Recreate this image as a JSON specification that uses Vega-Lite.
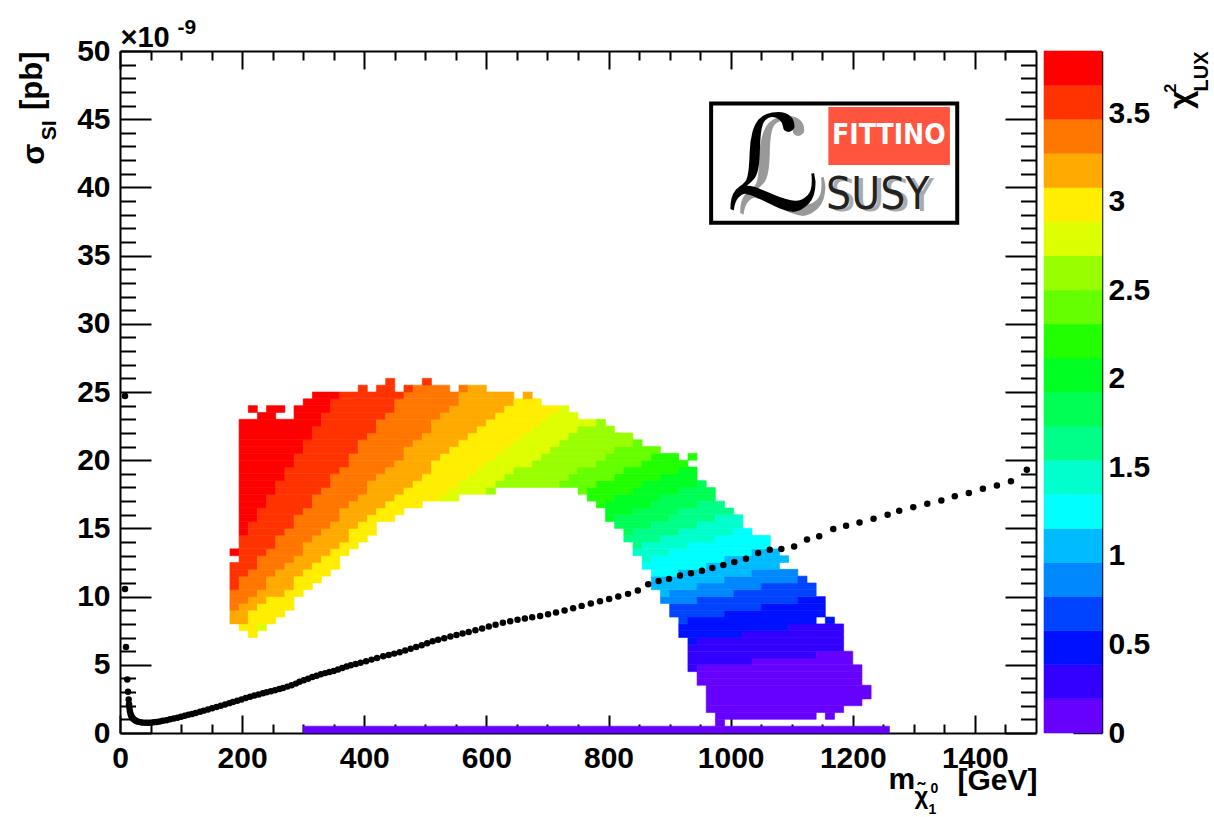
{
"$schema":"https://vega.github.io/schema/vega-lite/v6.json",
"background":"white",
"padding":{"left":16,"top":16,"right":0,"bottom":0},
"spacing":8,
"bounds":"flush",
"config":{
 "view":{"stroke":null},
 "axis":{"labelFont":"Liberation Sans","labelFontWeight":"bold","labelFontSize":30,"labelColor":"#000","titleFont":"Liberation Sans","titleFontWeight":"bold","titleColor":"#000","tickColor":"#000","tickWidth":2,"domainColor":"#000","domainWidth":2,"grid":false,"zindex":1,"labelOverlap":false,"labelFlush":false}
},
"hconcat":[
{
 "width":916,"height":682,
 "resolve":{"axis":{"x":"independent","y":"independent"}},
 "layer":[
  {
   "data":{"values":[
{"x0":300,"x1":1260,"y0":0,"y1":0.5,"chi":0.1},
{"x0":975,"x1":990,"y0":0.5,"y1":1,"chi":0.1},
{"x0":975,"x1":1140,"y0":1,"y1":1.5,"chi":0.1},
{"x0":1155,"x1":1170,"y0":1,"y1":1.5,"chi":0.1},
{"x0":960,"x1":1185,"y0":1.5,"y1":2,"chi":0.1},
{"x0":960,"x1":1215,"y0":2,"y1":2.5,"chi":0.1},
{"x0":960,"x1":1230,"y0":2.5,"y1":3,"chi":0.1},
{"x0":960,"x1":1230,"y0":3,"y1":3.5,"chi":0.1},
{"x0":945,"x1":1215,"y0":3.5,"y1":4,"chi":0.1},
{"x0":945,"x1":1215,"y0":4,"y1":4.5,"chi":0.1},
{"x0":930,"x1":945,"y0":4.5,"y1":5,"chi":0.29},
{"x0":945,"x1":1215,"y0":4.5,"y1":5,"chi":0.1},
{"x0":930,"x1":1035,"y0":5,"y1":5.5,"chi":0.29},
{"x0":1035,"x1":1200,"y0":5,"y1":5.5,"chi":0.1},
{"x0":930,"x1":1140,"y0":5.5,"y1":6,"chi":0.29},
{"x0":1140,"x1":1200,"y0":5.5,"y1":6,"chi":0.1},
{"x0":930,"x1":1185,"y0":6,"y1":6.5,"chi":0.29},
{"x0":930,"x1":945,"y0":6.5,"y1":7,"chi":0.48},
{"x0":945,"x1":1185,"y0":6.5,"y1":7,"chi":0.29},
{"x0":210,"x1":225,"y0":7,"y1":7.5,"chi":2.99},
{"x0":915,"x1":1020,"y0":7,"y1":7.5,"chi":0.48},
{"x0":1020,"x1":1185,"y0":7,"y1":7.5,"chi":0.29},
{"x0":195,"x1":225,"y0":7.5,"y1":8,"chi":2.99},
{"x0":225,"x1":240,"y0":7.5,"y1":8,"chi":2.79},
{"x0":915,"x1":1095,"y0":7.5,"y1":8,"chi":0.48},
{"x0":1095,"x1":1185,"y0":7.5,"y1":8,"chi":0.29},
{"x0":180,"x1":210,"y0":8,"y1":8.5,"chi":3.18},
{"x0":210,"x1":255,"y0":8,"y1":8.5,"chi":2.99},
{"x0":915,"x1":930,"y0":8,"y1":8.5,"chi":0.67},
{"x0":930,"x1":1140,"y0":8,"y1":8.5,"chi":0.48},
{"x0":1155,"x1":1170,"y0":8,"y1":8.5,"chi":0.48},
{"x0":180,"x1":210,"y0":8.5,"y1":9,"chi":3.18},
{"x0":210,"x1":270,"y0":8.5,"y1":9,"chi":2.99},
{"x0":900,"x1":990,"y0":8.5,"y1":9,"chi":0.67},
{"x0":990,"x1":1155,"y0":8.5,"y1":9,"chi":0.48},
{"x0":180,"x1":195,"y0":9,"y1":9.5,"chi":3.37},
{"x0":195,"x1":225,"y0":9,"y1":9.5,"chi":3.18},
{"x0":225,"x1":285,"y0":9,"y1":9.5,"chi":2.99},
{"x0":900,"x1":1050,"y0":9,"y1":9.5,"chi":0.67},
{"x0":1050,"x1":1155,"y0":9,"y1":9.5,"chi":0.48},
{"x0":180,"x1":210,"y0":9.5,"y1":10,"chi":3.37},
{"x0":210,"x1":240,"y0":9.5,"y1":10,"chi":3.18},
{"x0":240,"x1":285,"y0":9.5,"y1":10,"chi":2.99},
{"x0":885,"x1":945,"y0":9.5,"y1":10,"chi":0.87},
{"x0":945,"x1":1110,"y0":9.5,"y1":10,"chi":0.67},
{"x0":1110,"x1":1155,"y0":9.5,"y1":10,"chi":0.48},
{"x0":180,"x1":225,"y0":10,"y1":10.5,"chi":3.37},
{"x0":225,"x1":270,"y0":10,"y1":10.5,"chi":3.18},
{"x0":270,"x1":300,"y0":10,"y1":10.5,"chi":2.99},
{"x0":885,"x1":900,"y0":10,"y1":10.5,"chi":1.06},
{"x0":900,"x1":1005,"y0":10,"y1":10.5,"chi":0.87},
{"x0":1005,"x1":1140,"y0":10,"y1":10.5,"chi":0.67},
{"x0":180,"x1":195,"y0":10.5,"y1":11,"chi":3.56},
{"x0":195,"x1":240,"y0":10.5,"y1":11,"chi":3.37},
{"x0":240,"x1":285,"y0":10.5,"y1":11,"chi":3.18},
{"x0":285,"x1":315,"y0":10.5,"y1":11,"chi":2.99},
{"x0":870,"x1":945,"y0":10.5,"y1":11,"chi":1.06},
{"x0":945,"x1":1050,"y0":10.5,"y1":11,"chi":0.87},
{"x0":1050,"x1":1140,"y0":10.5,"y1":11,"chi":0.67},
{"x0":180,"x1":195,"y0":11,"y1":11.5,"chi":3.56},
{"x0":195,"x1":240,"y0":11,"y1":11.5,"chi":3.37},
{"x0":240,"x1":285,"y0":11,"y1":11.5,"chi":3.18},
{"x0":285,"x1":330,"y0":11,"y1":11.5,"chi":2.99},
{"x0":870,"x1":990,"y0":11,"y1":11.5,"chi":1.06},
{"x0":990,"x1":1110,"y0":11,"y1":11.5,"chi":0.87},
{"x0":1110,"x1":1125,"y0":11,"y1":11.5,"chi":0.67},
{"x0":180,"x1":210,"y0":11.5,"y1":12,"chi":3.56},
{"x0":210,"x1":255,"y0":11.5,"y1":12,"chi":3.37},
{"x0":255,"x1":300,"y0":11.5,"y1":12,"chi":3.18},
{"x0":300,"x1":345,"y0":11.5,"y1":12,"chi":2.99},
{"x0":870,"x1":915,"y0":11.5,"y1":12,"chi":1.25},
{"x0":915,"x1":1035,"y0":11.5,"y1":12,"chi":1.06},
{"x0":1035,"x1":1110,"y0":11.5,"y1":12,"chi":0.87},
{"x0":180,"x1":225,"y0":12,"y1":12.5,"chi":3.56},
{"x0":225,"x1":270,"y0":12,"y1":12.5,"chi":3.37},
{"x0":270,"x1":315,"y0":12,"y1":12.5,"chi":3.18},
{"x0":315,"x1":360,"y0":12,"y1":12.5,"chi":2.99},
{"x0":855,"x1":960,"y0":12,"y1":12.5,"chi":1.25},
{"x0":960,"x1":1080,"y0":12,"y1":12.5,"chi":1.06},
{"x0":195,"x1":225,"y0":12.5,"y1":13,"chi":3.56},
{"x0":225,"x1":285,"y0":12.5,"y1":13,"chi":3.37},
{"x0":285,"x1":330,"y0":12.5,"y1":13,"chi":3.18},
{"x0":330,"x1":360,"y0":12.5,"y1":13,"chi":2.99},
{"x0":855,"x1":870,"y0":12.5,"y1":13,"chi":1.45},
{"x0":870,"x1":990,"y0":12.5,"y1":13,"chi":1.25},
{"x0":990,"x1":1095,"y0":12.5,"y1":13,"chi":1.06},
{"x0":180,"x1":195,"y0":13,"y1":13.5,"chi":3.76},
{"x0":195,"x1":240,"y0":13,"y1":13.5,"chi":3.56},
{"x0":240,"x1":300,"y0":13,"y1":13.5,"chi":3.37},
{"x0":300,"x1":345,"y0":13,"y1":13.5,"chi":3.18},
{"x0":345,"x1":375,"y0":13,"y1":13.5,"chi":2.99},
{"x0":840,"x1":900,"y0":13,"y1":13.5,"chi":1.45},
{"x0":900,"x1":1035,"y0":13,"y1":13.5,"chi":1.25},
{"x0":1035,"x1":1080,"y0":13,"y1":13.5,"chi":1.06},
{"x0":195,"x1":255,"y0":13.5,"y1":14,"chi":3.56},
{"x0":255,"x1":300,"y0":13.5,"y1":14,"chi":3.37},
{"x0":300,"x1":360,"y0":13.5,"y1":14,"chi":3.18},
{"x0":360,"x1":390,"y0":13.5,"y1":14,"chi":2.99},
{"x0":840,"x1":855,"y0":13.5,"y1":14,"chi":1.64},
{"x0":855,"x1":930,"y0":13.5,"y1":14,"chi":1.45},
{"x0":930,"x1":1065,"y0":13.5,"y1":14,"chi":1.25},
{"x0":195,"x1":255,"y0":14,"y1":14.5,"chi":3.56},
{"x0":255,"x1":315,"y0":14,"y1":14.5,"chi":3.37},
{"x0":315,"x1":375,"y0":14,"y1":14.5,"chi":3.18},
{"x0":375,"x1":405,"y0":14,"y1":14.5,"chi":2.99},
{"x0":825,"x1":885,"y0":14,"y1":14.5,"chi":1.64},
{"x0":885,"x1":975,"y0":14,"y1":14.5,"chi":1.45},
{"x0":975,"x1":1065,"y0":14,"y1":14.5,"chi":1.25},
{"x0":195,"x1":210,"y0":14.5,"y1":15,"chi":3.76},
{"x0":210,"x1":270,"y0":14.5,"y1":15,"chi":3.56},
{"x0":270,"x1":330,"y0":14.5,"y1":15,"chi":3.37},
{"x0":330,"x1":375,"y0":14.5,"y1":15,"chi":3.18},
{"x0":375,"x1":420,"y0":14.5,"y1":15,"chi":2.99},
{"x0":825,"x1":840,"y0":14.5,"y1":15,"chi":1.83},
{"x0":840,"x1":915,"y0":14.5,"y1":15,"chi":1.64},
{"x0":915,"x1":1005,"y0":14.5,"y1":15,"chi":1.45},
{"x0":1005,"x1":1035,"y0":14.5,"y1":15,"chi":1.25},
{"x0":195,"x1":210,"y0":15,"y1":15.5,"chi":3.76},
{"x0":210,"x1":285,"y0":15,"y1":15.5,"chi":3.56},
{"x0":285,"x1":345,"y0":15,"y1":15.5,"chi":3.37},
{"x0":345,"x1":390,"y0":15,"y1":15.5,"chi":3.18},
{"x0":390,"x1":420,"y0":15,"y1":15.5,"chi":2.99},
{"x0":810,"x1":870,"y0":15,"y1":15.5,"chi":1.83},
{"x0":870,"x1":945,"y0":15,"y1":15.5,"chi":1.64},
{"x0":945,"x1":1020,"y0":15,"y1":15.5,"chi":1.45},
{"x0":195,"x1":225,"y0":15.5,"y1":16,"chi":3.76},
{"x0":225,"x1":285,"y0":15.5,"y1":16,"chi":3.56},
{"x0":285,"x1":360,"y0":15.5,"y1":16,"chi":3.37},
{"x0":360,"x1":405,"y0":15.5,"y1":16,"chi":3.18},
{"x0":405,"x1":450,"y0":15.5,"y1":16,"chi":2.99},
{"x0":795,"x1":810,"y0":15.5,"y1":16,"chi":2.02},
{"x0":810,"x1":900,"y0":15.5,"y1":16,"chi":1.83},
{"x0":900,"x1":975,"y0":15.5,"y1":16,"chi":1.64},
{"x0":975,"x1":1020,"y0":15.5,"y1":16,"chi":1.45},
{"x0":195,"x1":225,"y0":16,"y1":16.5,"chi":3.76},
{"x0":225,"x1":300,"y0":16,"y1":16.5,"chi":3.56},
{"x0":300,"x1":360,"y0":16,"y1":16.5,"chi":3.37},
{"x0":360,"x1":420,"y0":16,"y1":16.5,"chi":3.18},
{"x0":420,"x1":465,"y0":16,"y1":16.5,"chi":2.99},
{"x0":795,"x1":840,"y0":16,"y1":16.5,"chi":2.02},
{"x0":840,"x1":915,"y0":16,"y1":16.5,"chi":1.83},
{"x0":915,"x1":1005,"y0":16,"y1":16.5,"chi":1.64},
{"x0":195,"x1":240,"y0":16.5,"y1":17,"chi":3.76},
{"x0":240,"x1":315,"y0":16.5,"y1":17,"chi":3.56},
{"x0":315,"x1":375,"y0":16.5,"y1":17,"chi":3.37},
{"x0":375,"x1":435,"y0":16.5,"y1":17,"chi":3.18},
{"x0":435,"x1":495,"y0":16.5,"y1":17,"chi":2.99},
{"x0":780,"x1":795,"y0":16.5,"y1":17,"chi":2.22},
{"x0":795,"x1":870,"y0":16.5,"y1":17,"chi":2.02},
{"x0":870,"x1":945,"y0":16.5,"y1":17,"chi":1.83},
{"x0":945,"x1":990,"y0":16.5,"y1":17,"chi":1.64},
{"x0":195,"x1":240,"y0":17,"y1":17.5,"chi":3.76},
{"x0":240,"x1":315,"y0":17,"y1":17.5,"chi":3.56},
{"x0":315,"x1":390,"y0":17,"y1":17.5,"chi":3.37},
{"x0":390,"x1":450,"y0":17,"y1":17.5,"chi":3.18},
{"x0":450,"x1":525,"y0":17,"y1":17.5,"chi":2.99},
{"x0":525,"x1":555,"y0":17,"y1":17.5,"chi":2.79},
{"x0":765,"x1":810,"y0":17,"y1":17.5,"chi":2.22},
{"x0":810,"x1":885,"y0":17,"y1":17.5,"chi":2.02},
{"x0":885,"x1":975,"y0":17,"y1":17.5,"chi":1.83},
{"x0":195,"x1":255,"y0":17.5,"y1":18,"chi":3.76},
{"x0":255,"x1":330,"y0":17.5,"y1":18,"chi":3.56},
{"x0":330,"x1":405,"y0":17.5,"y1":18,"chi":3.37},
{"x0":405,"x1":465,"y0":17.5,"y1":18,"chi":3.18},
{"x0":465,"x1":540,"y0":17.5,"y1":18,"chi":2.99},
{"x0":540,"x1":600,"y0":17.5,"y1":18,"chi":2.79},
{"x0":600,"x1":615,"y0":17.5,"y1":18,"chi":2.6},
{"x0":750,"x1":765,"y0":17.5,"y1":18,"chi":2.41},
{"x0":765,"x1":840,"y0":17.5,"y1":18,"chi":2.22},
{"x0":840,"x1":915,"y0":17.5,"y1":18,"chi":2.02},
{"x0":915,"x1":975,"y0":17.5,"y1":18,"chi":1.83},
{"x0":195,"x1":255,"y0":18,"y1":18.5,"chi":3.76},
{"x0":255,"x1":345,"y0":18,"y1":18.5,"chi":3.56},
{"x0":345,"x1":405,"y0":18,"y1":18.5,"chi":3.37},
{"x0":405,"x1":480,"y0":18,"y1":18.5,"chi":3.18},
{"x0":480,"x1":555,"y0":18,"y1":18.5,"chi":2.99},
{"x0":555,"x1":615,"y0":18,"y1":18.5,"chi":2.79},
{"x0":615,"x1":720,"y0":18,"y1":18.5,"chi":2.6},
{"x0":720,"x1":780,"y0":18,"y1":18.5,"chi":2.41},
{"x0":780,"x1":855,"y0":18,"y1":18.5,"chi":2.22},
{"x0":855,"x1":945,"y0":18,"y1":18.5,"chi":2.02},
{"x0":945,"x1":960,"y0":18,"y1":18.5,"chi":1.83},
{"x0":195,"x1":270,"y0":18.5,"y1":19,"chi":3.76},
{"x0":270,"x1":345,"y0":18.5,"y1":19,"chi":3.56},
{"x0":345,"x1":420,"y0":18.5,"y1":19,"chi":3.37},
{"x0":420,"x1":495,"y0":18.5,"y1":19,"chi":3.18},
{"x0":495,"x1":570,"y0":18.5,"y1":19,"chi":2.99},
{"x0":570,"x1":630,"y0":18.5,"y1":19,"chi":2.79},
{"x0":630,"x1":735,"y0":18.5,"y1":19,"chi":2.6},
{"x0":735,"x1":810,"y0":18.5,"y1":19,"chi":2.41},
{"x0":810,"x1":885,"y0":18.5,"y1":19,"chi":2.22},
{"x0":885,"x1":945,"y0":18.5,"y1":19,"chi":2.02},
{"x0":195,"x1":270,"y0":19,"y1":19.5,"chi":3.76},
{"x0":270,"x1":360,"y0":19,"y1":19.5,"chi":3.56},
{"x0":360,"x1":435,"y0":19,"y1":19.5,"chi":3.37},
{"x0":435,"x1":510,"y0":19,"y1":19.5,"chi":3.18},
{"x0":510,"x1":585,"y0":19,"y1":19.5,"chi":2.99},
{"x0":585,"x1":645,"y0":19,"y1":19.5,"chi":2.79},
{"x0":645,"x1":750,"y0":19,"y1":19.5,"chi":2.6},
{"x0":750,"x1":825,"y0":19,"y1":19.5,"chi":2.41},
{"x0":825,"x1":915,"y0":19,"y1":19.5,"chi":2.22},
{"x0":915,"x1":945,"y0":19,"y1":19.5,"chi":2.02},
{"x0":195,"x1":285,"y0":19.5,"y1":20,"chi":3.76},
{"x0":285,"x1":375,"y0":19.5,"y1":20,"chi":3.56},
{"x0":375,"x1":450,"y0":19.5,"y1":20,"chi":3.37},
{"x0":450,"x1":510,"y0":19.5,"y1":20,"chi":3.18},
{"x0":510,"x1":600,"y0":19.5,"y1":20,"chi":2.99},
{"x0":600,"x1":675,"y0":19.5,"y1":20,"chi":2.79},
{"x0":675,"x1":780,"y0":19.5,"y1":20,"chi":2.6},
{"x0":780,"x1":855,"y0":19.5,"y1":20,"chi":2.41},
{"x0":855,"x1":930,"y0":19.5,"y1":20,"chi":2.22},
{"x0":195,"x1":285,"y0":20,"y1":20.5,"chi":3.76},
{"x0":285,"x1":375,"y0":20,"y1":20.5,"chi":3.56},
{"x0":375,"x1":465,"y0":20,"y1":20.5,"chi":3.37},
{"x0":465,"x1":525,"y0":20,"y1":20.5,"chi":3.18},
{"x0":525,"x1":615,"y0":20,"y1":20.5,"chi":2.99},
{"x0":615,"x1":690,"y0":20,"y1":20.5,"chi":2.79},
{"x0":690,"x1":795,"y0":20,"y1":20.5,"chi":2.6},
{"x0":795,"x1":870,"y0":20,"y1":20.5,"chi":2.41},
{"x0":870,"x1":915,"y0":20,"y1":20.5,"chi":2.22},
{"x0":930,"x1":945,"y0":20,"y1":20.5,"chi":2.22},
{"x0":195,"x1":300,"y0":20.5,"y1":21,"chi":3.76},
{"x0":300,"x1":390,"y0":20.5,"y1":21,"chi":3.56},
{"x0":390,"x1":465,"y0":20.5,"y1":21,"chi":3.37},
{"x0":465,"x1":540,"y0":20.5,"y1":21,"chi":3.18},
{"x0":540,"x1":630,"y0":20.5,"y1":21,"chi":2.99},
{"x0":630,"x1":705,"y0":20.5,"y1":21,"chi":2.79},
{"x0":705,"x1":810,"y0":20.5,"y1":21,"chi":2.6},
{"x0":810,"x1":885,"y0":20.5,"y1":21,"chi":2.41},
{"x0":195,"x1":300,"y0":21,"y1":21.5,"chi":3.76},
{"x0":300,"x1":390,"y0":21,"y1":21.5,"chi":3.56},
{"x0":390,"x1":480,"y0":21,"y1":21.5,"chi":3.37},
{"x0":480,"x1":555,"y0":21,"y1":21.5,"chi":3.18},
{"x0":555,"x1":645,"y0":21,"y1":21.5,"chi":2.99},
{"x0":645,"x1":720,"y0":21,"y1":21.5,"chi":2.79},
{"x0":720,"x1":840,"y0":21,"y1":21.5,"chi":2.6},
{"x0":840,"x1":855,"y0":21,"y1":21.5,"chi":2.41},
{"x0":195,"x1":315,"y0":21.5,"y1":22,"chi":3.76},
{"x0":315,"x1":405,"y0":21.5,"y1":22,"chi":3.56},
{"x0":405,"x1":495,"y0":21.5,"y1":22,"chi":3.37},
{"x0":495,"x1":570,"y0":21.5,"y1":22,"chi":3.18},
{"x0":570,"x1":660,"y0":21.5,"y1":22,"chi":2.99},
{"x0":660,"x1":735,"y0":21.5,"y1":22,"chi":2.79},
{"x0":735,"x1":840,"y0":21.5,"y1":22,"chi":2.6},
{"x0":195,"x1":315,"y0":22,"y1":22.5,"chi":3.76},
{"x0":315,"x1":420,"y0":22,"y1":22.5,"chi":3.56},
{"x0":420,"x1":510,"y0":22,"y1":22.5,"chi":3.37},
{"x0":510,"x1":585,"y0":22,"y1":22.5,"chi":3.18},
{"x0":585,"x1":675,"y0":22,"y1":22.5,"chi":2.99},
{"x0":675,"x1":750,"y0":22,"y1":22.5,"chi":2.79},
{"x0":750,"x1":810,"y0":22,"y1":22.5,"chi":2.6},
{"x0":195,"x1":330,"y0":22.5,"y1":23,"chi":3.76},
{"x0":330,"x1":420,"y0":22.5,"y1":23,"chi":3.56},
{"x0":420,"x1":510,"y0":22.5,"y1":23,"chi":3.37},
{"x0":510,"x1":600,"y0":22.5,"y1":23,"chi":3.18},
{"x0":600,"x1":690,"y0":22.5,"y1":23,"chi":2.99},
{"x0":690,"x1":780,"y0":22.5,"y1":23,"chi":2.79},
{"x0":780,"x1":795,"y0":22.5,"y1":23,"chi":2.6},
{"x0":225,"x1":255,"y0":23,"y1":23.5,"chi":3.76},
{"x0":285,"x1":330,"y0":23,"y1":23.5,"chi":3.76},
{"x0":330,"x1":435,"y0":23,"y1":23.5,"chi":3.56},
{"x0":435,"x1":525,"y0":23,"y1":23.5,"chi":3.37},
{"x0":525,"x1":615,"y0":23,"y1":23.5,"chi":3.18},
{"x0":615,"x1":705,"y0":23,"y1":23.5,"chi":2.99},
{"x0":705,"x1":750,"y0":23,"y1":23.5,"chi":2.79},
{"x0":210,"x1":225,"y0":23.5,"y1":24,"chi":3.76},
{"x0":240,"x1":270,"y0":23.5,"y1":24,"chi":3.76},
{"x0":285,"x1":345,"y0":23.5,"y1":24,"chi":3.76},
{"x0":345,"x1":450,"y0":23.5,"y1":24,"chi":3.56},
{"x0":450,"x1":540,"y0":23.5,"y1":24,"chi":3.37},
{"x0":540,"x1":630,"y0":23.5,"y1":24,"chi":3.18},
{"x0":630,"x1":720,"y0":23.5,"y1":24,"chi":2.99},
{"x0":720,"x1":735,"y0":23.5,"y1":24,"chi":2.79},
{"x0":300,"x1":345,"y0":24,"y1":24.5,"chi":3.76},
{"x0":345,"x1":450,"y0":24,"y1":24.5,"chi":3.56},
{"x0":450,"x1":555,"y0":24,"y1":24.5,"chi":3.37},
{"x0":555,"x1":645,"y0":24,"y1":24.5,"chi":3.18},
{"x0":645,"x1":690,"y0":24,"y1":24.5,"chi":2.99},
{"x0":315,"x1":360,"y0":24.5,"y1":25,"chi":3.76},
{"x0":360,"x1":465,"y0":24.5,"y1":25,"chi":3.56},
{"x0":465,"x1":555,"y0":24.5,"y1":25,"chi":3.37},
{"x0":555,"x1":645,"y0":24.5,"y1":25,"chi":3.18},
{"x0":660,"x1":675,"y0":24.5,"y1":25,"chi":3.18},
{"x0":390,"x1":405,"y0":25,"y1":25.5,"chi":3.56},
{"x0":420,"x1":450,"y0":25,"y1":25.5,"chi":3.56},
{"x0":465,"x1":480,"y0":25,"y1":25.5,"chi":3.56},
{"x0":480,"x1":540,"y0":25,"y1":25.5,"chi":3.37},
{"x0":555,"x1":570,"y0":25,"y1":25.5,"chi":3.37},
{"x0":570,"x1":600,"y0":25,"y1":25.5,"chi":3.18},
{"x0":435,"x1":450,"y0":25.5,"y1":26,"chi":3.56},
{"x0":495,"x1":510,"y0":25.5,"y1":26,"chi":3.56}
   ]},
   "mark":{"type":"rect","strokeWidth":0.6},
   "encoding":{
    "x":{"field":"x0","type":"quantitative","scale":{"domain":[0,1500],"nice":false,"zero":false},
     "axis":{"orient":"bottom","values":[0,200,400,600,800,1000,1200,1400],"format":"d","tickSize":-18,"labelPadding":28,"domain":true,
      "title":"m","titleX":768,"titleY":55,"titleAngle":0,"titleAlign":"left","titleBaseline":"alphabetic","titleFontSize":30}},
    "x2":{"field":"x1"},
    "y":{"field":"y0","type":"quantitative","scale":{"domain":[0,50],"nice":false,"zero":false},
     "axis":{"orient":"left","values":[0,5,10,15,20,25,30,35,40,45,50],"format":"d","tickSize":-31,"labelPadding":41,"domain":true,"labelAlign":"right","labelBaseline":"middle",
      "title":"\u03c3","titleX":-77,"titleY":92,"titleAngle":-90,"titleAlign":"right","titleBaseline":"alphabetic","titleFontSize":31}},
    "y2":{"field":"y1"},
    "color":{"field":"chi","type":"quantitative","legend":null,"scale":{"type":"quantize","domain":[0,3.853],"nice":false,"range":["#6600ff","#3300ff","#0011ff","#0044ff","#0088ff","#00bbff","#00ffff","#00ffcc","#00ff88","#00ff55","#00ff22","#22ff00","#66ff00","#99ff00","#ddff00","#ffee00","#ffaa00","#ff7700","#ff3300","#ff0000"]}},
    "stroke":{"field":"chi","type":"quantitative","legend":null,"scale":{"type":"quantize","domain":[0,3.853],"nice":false,"range":["#6600ff","#3300ff","#0011ff","#0044ff","#0088ff","#00bbff","#00ffff","#00ffcc","#00ff88","#00ff55","#00ff22","#22ff00","#66ff00","#99ff00","#ddff00","#ffee00","#ffaa00","#ff7700","#ff3300","#ff0000"]}}
   }
  },
  {
   "data":{"values":[
{"mass":8.2,"sigma":24.7},{"mass":8.2,"sigma":10.56},{"mass":9.8,"sigma":6.31},{"mass":12.0,"sigma":3.92},{"mass":13.1,"sigma":3.02},{"mass":14.2,"sigma":2.45},{"mass":14.8,"sigma":2.1},{"mass":15.4,"sigma":1.85},{"mass":16.2,"sigma":1.62},{"mass":17.2,"sigma":1.42},{"mass":18.4,"sigma":1.27},{"mass":20,"sigma":1.13},{"mass":22,"sigma":1.02},{"mass":24.5,"sigma":0.93},{"mass":27,"sigma":0.87},{"mass":30,"sigma":0.82},{"mass":34,"sigma":0.78},{"mass":38,"sigma":0.76},{"mass":42,"sigma":0.75},{"mass":46,"sigma":0.75},{"mass":50,"sigma":0.76},{"mass":55,"sigma":0.78},{"mass":60,"sigma":0.81},{"mass":65,"sigma":0.85},{"mass":70,"sigma":0.89},{"mass":76,"sigma":0.94},{"mass":82,"sigma":1.0},{"mass":88,"sigma":1.06},{"mass":94,"sigma":1.12},{"mass":100,"sigma":1.19},{"mass":106,"sigma":1.26},{"mass":112,"sigma":1.33},{"mass":118,"sigma":1.4},{"mass":124,"sigma":1.47},{"mass":131,"sigma":1.56},{"mass":137,"sigma":1.64},{"mass":144,"sigma":1.72},{"mass":151,"sigma":1.81},{"mass":158,"sigma":1.9},{"mass":165,"sigma":2.0},{"mass":172,"sigma":2.09},{"mass":179,"sigma":2.19},{"mass":185,"sigma":2.28},{"mass":192,"sigma":2.37},{"mass":199,"sigma":2.46},{"mass":206,"sigma":2.56},{"mass":213,"sigma":2.66},{"mass":220,"sigma":2.75},{"mass":227,"sigma":2.83},{"mass":234,"sigma":2.91},{"mass":240,"sigma":2.98},{"mass":247,"sigma":3.06},{"mass":254,"sigma":3.14},{"mass":261,"sigma":3.22},{"mass":267,"sigma":3.3},{"mass":274,"sigma":3.4},{"mass":281,"sigma":3.5},{"mass":288,"sigma":3.62},{"mass":294,"sigma":3.75},{"mass":301,"sigma":3.87},{"mass":308,"sigma":3.98},{"mass":315,"sigma":4.1},{"mass":322,"sigma":4.2},{"mass":329,"sigma":4.3},{"mass":336,"sigma":4.39},{"mass":343,"sigma":4.47},{"mass":350,"sigma":4.55},{"mass":357,"sigma":4.66},{"mass":364,"sigma":4.77},{"mass":371,"sigma":4.87},{"mass":378,"sigma":4.97},{"mass":386,"sigma":5.06},{"mass":394,"sigma":5.15},{"mass":403,"sigma":5.26},{"mass":412,"sigma":5.38},{"mass":421,"sigma":5.5},{"mass":431,"sigma":5.63},{"mass":440,"sigma":5.72},{"mass":449,"sigma":5.82},{"mass":458,"sigma":5.92},{"mass":467,"sigma":6.04},{"mass":476,"sigma":6.17},{"mass":485,"sigma":6.3},{"mass":494,"sigma":6.44},{"mass":503,"sigma":6.58},{"mass":512,"sigma":6.72},{"mass":521,"sigma":6.84},{"mass":531,"sigma":6.95},{"mass":541,"sigma":7.07},{"mass":551,"sigma":7.18},{"mass":561,"sigma":7.3},{"mass":571,"sigma":7.4},{"mass":582,"sigma":7.53},{"mass":593,"sigma":7.66},{"mass":604,"sigma":7.8},{"mass":615,"sigma":7.94},{"mass":627,"sigma":8.08},{"mass":639,"sigma":8.2},{"mass":651,"sigma":8.3},{"mass":663,"sigma":8.39},{"mass":675,"sigma":8.48},{"mass":688,"sigma":8.58},{"mass":701,"sigma":8.7},{"mass":714,"sigma":8.83},{"mass":728,"sigma":8.98},{"mass":742,"sigma":9.14},{"mass":756,"sigma":9.32},{"mass":771,"sigma":9.5},{"mass":786,"sigma":9.66},{"mass":801,"sigma":9.82},{"mass":816,"sigma":10.0},{"mass":832,"sigma":10.2},{"mass":848,"sigma":10.45},{"mass":865,"sigma":10.9},{"mass":882,"sigma":11.15},{"mass":899,"sigma":11.3},{"mass":917,"sigma":11.54},{"mass":935,"sigma":11.71},{"mass":953,"sigma":11.9},{"mass":970,"sigma":12.1},{"mass":988,"sigma":12.32},{"mass":1006,"sigma":12.54},{"mass":1025,"sigma":12.78},{"mass":1045,"sigma":13.2},{"mass":1064,"sigma":13.44},{"mass":1083,"sigma":13.49},{"mass":1104,"sigma":13.68},{"mass":1125,"sigma":14.18},{"mass":1145,"sigma":14.42},{"mass":1168,"sigma":14.96},{"mass":1189,"sigma":15.2},{"mass":1211,"sigma":15.44},{"mass":1234,"sigma":15.71},{"mass":1257,"sigma":16.0},{"mass":1276,"sigma":16.3},{"mass":1299,"sigma":16.55},{"mass":1322,"sigma":16.8},{"mass":1345,"sigma":17.05},{"mass":1367,"sigma":17.35},{"mass":1390,"sigma":17.6},{"mass":1413,"sigma":17.9},{"mass":1436,"sigma":18.15},{"mass":1459,"sigma":18.45},{"mass":1485,"sigma":19.3}
   ]},
   "mark":{"type":"circle","color":"#000","size":42,"opacity":1},
   "encoding":{
    "x":{"field":"mass","type":"quantitative","scale":{"domain":[0,1500],"nice":false,"zero":false},
     "axis":{"orient":"bottom","values":[50,100,150,250,300,350,450,500,550,650,700,750,850,900,950,1050,1100,1150,1250,1300,1350,1450],"tickSize":-9,"labels":false,"domain":false,
      "title":"\u03c7\u0303","titleX":794,"titleY":70,"titleAngle":0,"titleAlign":"left","titleBaseline":"alphabetic","titleFontSize":24}},
    "y":{"field":"sigma","type":"quantitative","scale":{"domain":[0,50],"nice":false,"zero":false},
     "axis":{"orient":"left","values":[1,2,3,4,6,7,8,9,11,12,13,14,16,17,18,19,21,22,23,24,26,27,28,29,31,32,33,34,36,37,38,39,41,42,43,44,46,47,48,49],"tickSize":-15.5,"labels":false,"domain":false,
      "title":"SI","titleX":-65,"titleY":69,"titleAngle":-90,"titleAlign":"right","titleBaseline":"alphabetic","titleFontSize":21}}
   }
  },
  {
   "data":{"values":[{}]},
   "mark":{"type":"rect","fill":"white","stroke":"black","strokeWidth":4},
   "encoding":{
    "x":{"datum":968,"type":"quantitative","scale":{"domain":[0,1500],"nice":false,"zero":false},
     "axis":{"orient":"top","values":[0,200,400,600,800,1000,1200,1400],"tickSize":-18,"labels":false,"domain":true,
      "title":"\u00d710","titleX":0,"titleY":-5,"titleAngle":0,"titleAlign":"left","titleBaseline":"alphabetic","titleFontSize":29}},
    "x2":{"datum":1371},
    "y":{"datum":46.15,"type":"quantitative","scale":{"domain":[0,50],"nice":false,"zero":false},
     "axis":{"orient":"right","values":[0,5,10,15,20,25,30,35,40,45,50],"tickSize":-31,"labels":false,"domain":true,"title":null}},
    "y2":{"datum":37.4}
   }
  },
  {
   "data":{"values":[{}]},
   "mark":{"type":"rect","fill":"#ff553f"},
   "encoding":{
    "x":{"datum":1160,"type":"quantitative","scale":{"domain":[0,1500],"nice":false,"zero":false},
     "axis":{"orient":"top","values":[50,100,150,250,300,350,450,500,550,650,700,750,850,900,950,1050,1100,1150,1250,1300,1350,1450],"tickSize":-9,"labels":false,"domain":false,
      "title":"-9","titleX":57,"titleY":-18,"titleAngle":0,"titleAlign":"left","titleBaseline":"alphabetic","titleFontSize":21}},
    "x2":{"datum":1359},
    "y":{"datum":45.9,"type":"quantitative","scale":{"domain":[0,50],"nice":false,"zero":false},
     "axis":{"orient":"right","values":[1,2,3,4,6,7,8,9,11,12,13,14,16,17,18,19,21,22,23,24,26,27,28,29,31,32,33,34,36,37,38,39,41,42,43,44,46,47,48,49],"tickSize":-15.5,"labels":false,"domain":false,"title":null}},
    "y2":{"datum":41.65}
   }
  },
  {
   "data":{"values":[{"label":"FITTINO"}]},
   "mark":{"type":"text","font":"Liberation Sans Narrow, DejaVu Sans Condensed, Liberation Sans","fontWeight":"bold","fontSize":28,"color":"white","align":"center","baseline":"middle"},
   "encoding":{
    "text":{"field":"label"},
    "x":{"datum":1259,"type":"quantitative","scale":{"domain":[0,1500],"nice":false,"zero":false},
     "axis":{"orient":"bottom","ticks":false,"labels":false,"domain":false,"title":"0","titleX":810,"titleY":59,"titleAngle":0,"titleAlign":"left","titleBaseline":"alphabetic","titleFontSize":14}},
    "y":{"datum":43.75,"type":"quantitative","scale":{"domain":[0,50],"nice":false,"zero":false},
     "axis":{"orient":"left","ticks":false,"labels":false,"domain":false,"title":"[pb]","titleX":-79,"titleY":0,"titleAngle":-90,"titleAlign":"right","titleBaseline":"alphabetic","titleFontSize":31}}
   }
  },
  {
   "data":{"values":[{"label":"SUSY"}]},
   "mark":{"type":"text","font":"Liberation Sans Narrow, DejaVu Sans Condensed, Liberation Sans","fontSize":44,"color":"#aaaaaa","align":"center","baseline":"middle"},
   "encoding":{
    "text":{"field":"label"},
    "x":{"datum":1248,"type":"quantitative","scale":{"domain":[0,1500],"nice":false,"zero":false},
     "axis":{"orient":"bottom","ticks":false,"labels":false,"domain":false,"title":"1","titleX":808,"titleY":80,"titleAngle":0,"titleAlign":"left","titleBaseline":"alphabetic","titleFontSize":14}},
    "y":{"datum":39.2,"type":"quantitative","scale":{"domain":[0,50],"nice":false,"zero":false},"axis":null}
   }
  },
  {
   "data":{"values":[{"label":"SUSY"}]},
   "mark":{"type":"text","font":"Liberation Sans Narrow, DejaVu Sans Condensed, Liberation Sans","fontSize":44,"color":"#222222","align":"center","baseline":"middle"},
   "encoding":{
    "text":{"field":"label"},
    "x":{"datum":1241,"type":"quantitative","scale":{"domain":[0,1500],"nice":false,"zero":false},
     "axis":{"orient":"bottom","ticks":false,"labels":false,"domain":false,"title":"[GeV]","titleX":917,"titleY":56,"titleAngle":0,"titleAlign":"right","titleBaseline":"alphabetic","titleFontSize":30}},
    "y":{"datum":39.35,"type":"quantitative","scale":{"domain":[0,50],"nice":false,"zero":false},"axis":null}
   }
  },
  {
   "data":{"values":[{"label":"\u2112"}]},
   "mark":{"type":"text","font":"DejaVu Sans","fontSize":132,"color":"#999999","align":"center","baseline":"middle"},
   "encoding":{
    "text":{"field":"label"},
    "x":{"datum":1086,"type":"quantitative","scale":{"domain":[0,1500],"nice":false,"zero":false},"axis":null},
    "y":{"datum":41.0,"type":"quantitative","scale":{"domain":[0,50],"nice":false,"zero":false},"axis":null}
   }
  },
  {
   "data":{"values":[{"label":"\u2112"}]},
   "mark":{"type":"text","font":"DejaVu Sans","fontSize":132,"color":"#000000","align":"center","baseline":"middle"},
   "encoding":{
    "text":{"field":"label"},
    "x":{"datum":1070,"type":"quantitative","scale":{"domain":[0,1500],"nice":false,"zero":false},"axis":null},
    "y":{"datum":41.3,"type":"quantitative","scale":{"domain":[0,50],"nice":false,"zero":false},"axis":null}
   }
  }
 ]
},
{
 "width":58,"height":682,
 "data":{"values":[
{"lo":0,"hi":0.193,"chi":0.1},{"lo":0.193,"hi":0.385,"chi":0.29},{"lo":0.385,"hi":0.578,"chi":0.48},{"lo":0.578,"hi":0.771,"chi":0.67},{"lo":0.771,"hi":0.963,"chi":0.87},{"lo":0.963,"hi":1.156,"chi":1.06},{"lo":1.156,"hi":1.349,"chi":1.25},{"lo":1.349,"hi":1.541,"chi":1.45},{"lo":1.541,"hi":1.734,"chi":1.64},{"lo":1.734,"hi":1.927,"chi":1.83},{"lo":1.927,"hi":2.119,"chi":2.02},{"lo":2.119,"hi":2.312,"chi":2.22},{"lo":2.312,"hi":2.504,"chi":2.41},{"lo":2.504,"hi":2.697,"chi":2.6},{"lo":2.697,"hi":2.89,"chi":2.79},{"lo":2.89,"hi":3.082,"chi":2.99},{"lo":3.082,"hi":3.275,"chi":3.18},{"lo":3.275,"hi":3.468,"chi":3.37},{"lo":3.468,"hi":3.66,"chi":3.56},{"lo":3.66,"hi":3.853,"chi":3.76}
 ]},
 "resolve":{"axis":{"y":"independent"}},
 "layer":[
  {
   "mark":{"type":"rect","strokeWidth":0.6},
   "encoding":{
    "x":{"datum":0,"type":"quantitative","scale":{"domain":[0,1],"nice":false,"zero":false},"axis":null},
    "x2":{"datum":1},
    "y":{"field":"lo","type":"quantitative","scale":{"domain":[0,3.853],"nice":false,"zero":false},
     "axis":{"orient":"right","values":[0,0.5,1,1.5,2,2.5,3,3.5],"format":"~g","tickSize":-29,"tickWidth":1.5,"labelPadding":35,"domain":true,"domainWidth":1.5,"labelAlign":"left","labelBaseline":"middle",
      "title":"\u03c7","titleX":88,"titleY":39,"titleAngle":-90,"titleAlign":"right","titleBaseline":"alphabetic","titleFontSize":32}},
    "y2":{"field":"hi"},
    "color":{"field":"chi","type":"quantitative","legend":null,"scale":{"type":"quantize","domain":[0,3.853],"nice":false,"range":["#6600ff","#3300ff","#0011ff","#0044ff","#0088ff","#00bbff","#00ffff","#00ffcc","#00ff88","#00ff55","#00ff22","#22ff00","#66ff00","#99ff00","#ddff00","#ffee00","#ffaa00","#ff7700","#ff3300","#ff0000"]}},
    "stroke":{"field":"chi","type":"quantitative","legend":null,"scale":{"type":"quantize","domain":[0,3.853],"nice":false,"range":["#6600ff","#3300ff","#0011ff","#0044ff","#0088ff","#00bbff","#00ffff","#00ffcc","#00ff88","#00ff55","#00ff22","#22ff00","#66ff00","#99ff00","#ddff00","#ffee00","#ffaa00","#ff7700","#ff3300","#ff0000"]}}
   }
  },
  {
   "mark":{"type":"rect","opacity":0},
   "encoding":{
    "x":{"datum":0,"type":"quantitative","scale":{"domain":[0,1],"nice":false,"zero":false},"axis":null},
    "x2":{"datum":1},
    "y":{"field":"lo","type":"quantitative","scale":{"domain":[0,3.853],"nice":false,"zero":false},
     "axis":{"orient":"right","ticks":false,"labels":false,"domain":false,"title":"2","titleX":73,"titleY":32,"titleAngle":-90,"titleAlign":"right","titleBaseline":"alphabetic","titleFontSize":17}},
    "y2":{"field":"hi"}
   }
  },
  {
   "mark":{"type":"rect","opacity":0},
   "encoding":{
    "x":{"datum":0,"type":"quantitative","scale":{"domain":[0,1],"nice":false,"zero":false},"axis":null},
    "x2":{"datum":1},
    "y":{"field":"lo","type":"quantitative","scale":{"domain":[0,3.853],"nice":false,"zero":false},
     "axis":{"orient":"right","ticks":false,"labels":false,"domain":false,"title":"LUX","titleX":105,"titleY":40,"titleAngle":-90,"titleAlign":"left","titleBaseline":"alphabetic","titleFontSize":20}},
    "y2":{"field":"hi"}
   }
  }
 ]
}
]
}
